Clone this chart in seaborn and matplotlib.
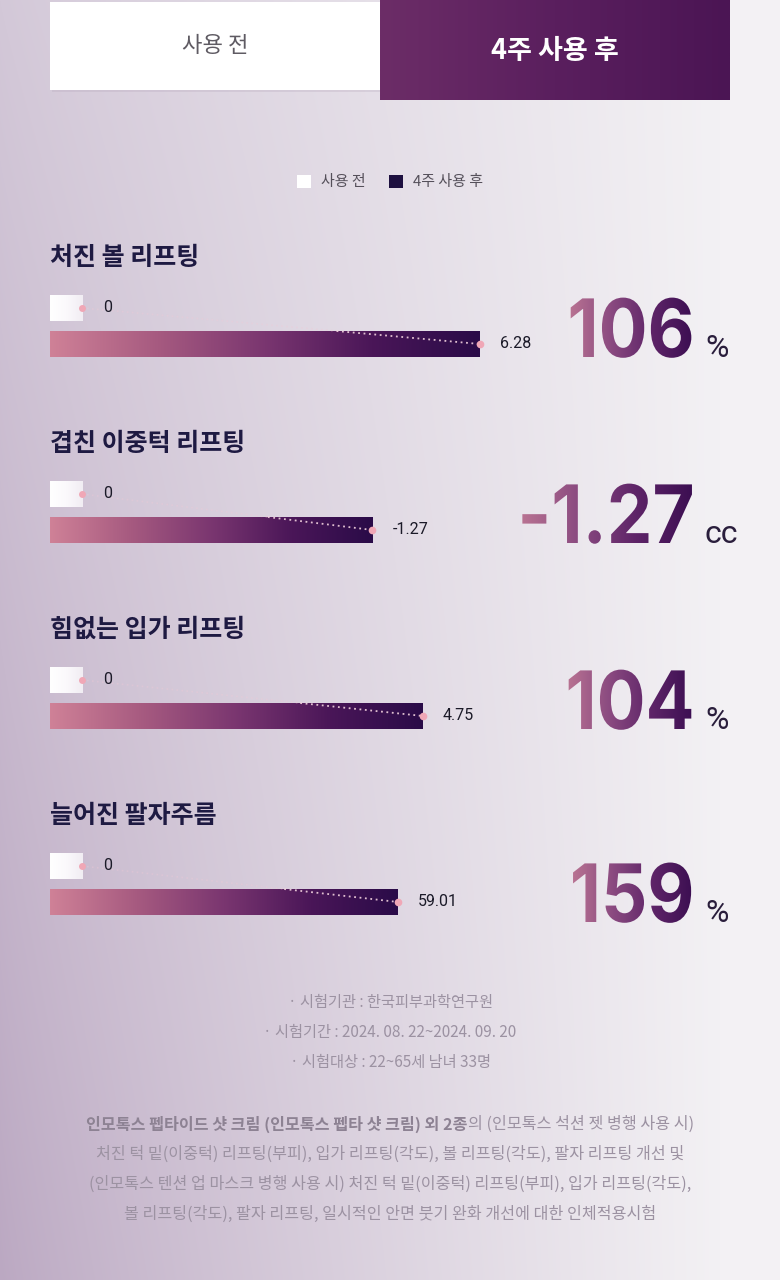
import numpy as np
import pandas as pd
import matplotlib
matplotlib.use("Agg")
import matplotlib.pyplot as plt
import seaborn as sns
from matplotlib.colors import LinearSegmentedColormap, to_rgb
from matplotlib.patches import Rectangle, Patch
from matplotlib.patheffects import AbstractPathEffect
from matplotlib.transforms import (IdentityTransform, TransformedPath,
                                   blended_transform_factory, Affine2D)

# ---------------- data ----------------
tab_labels = ["사용 전", "4주 사용 후"]
legend_labels = ["사용 전", "4주 사용 후"]
categories = ["처진 볼 리프팅", "겹친 이중턱 리프팅", "힘없는 입가 리프팅", "늘어진 팔자주름"]
before_values = [0, 0, 0, 0]
after_values = [6.28, -1.27, 4.75, 59.01]
change_values = ["106", "-1.27", "104", "159"]
change_units = ["%", "cc", "%", "%"]
panel_scale_max = [7.16, 1.93, 6.24, 83.1]
test_info = ["· 시험기관 : 한국피부과학연구원",
             "· 시험기간 : 2024. 08. 22~2024. 09. 20",
             "· 시험대상 : 22~65세 남녀 33명"]
note_bold = "인모톡스 펩타이드 샷 크림 (인모톡스 펩타 샷 크림) 외 2종"
note_lines = ["의 (인모톡스 석션 젯 병행 사용 시)",
              "처진 턱 밑(이중턱) 리프팅(부피), 입가 리프팅(각도), 볼 리프팅(각도), 팔자 리프팅 개선 및",
              "(인모톡스 텐션 업 마스크 병행 사용 시) 처진 턱 밑(이중턱) 리프팅(부피), 입가 리프팅(각도),",
              "볼 리프팅(각도), 팔자 리프팅, 일시적인 안면 붓기 완화 개선에 대한 인체적용시험"]

# ---------------- style ----------------
sns.set_theme(style="white")
plt.rcParams['font.family'] = ['Noto Sans CJK KR', 'DejaVu Sans']
NUM_FONT = ['Roboto', 'DejaVu Sans']
BIG_FONT = ['Inter', 'Roboto', 'DejaVu Sans']

W, H = 780, 1280
fig = plt.figure(figsize=(7.8, 12.8), dpi=100)

bar_cmap = LinearSegmentedColormap.from_list(
    "bar", ["#cf8197", "#a65a80", "#7a3670", "#4a1658", "#2a0b48"])
num_cmap = LinearSegmentedColormap.from_list(
    "num", ["#b87292", "#8a4a80", "#5e2468", "#3c0f52"])
tab_cmap = LinearSegmentedColormap.from_list("tab", ["#6c2d67", "#5a1f5e", "#4b1554"])
swatch_cmap = LinearSegmentedColormap.from_list("sw", ["#ffffff", "#fbf9fc", "#f1edf3"])


class GradientFill(AbstractPathEffect):
    """Fill a text path with a horizontal gradient (optionally condensed)."""
    def __init__(self, cmap, sx=1.0):
        super().__init__()
        self.cmap = cmap
        self.sx = sx

    def draw_path(self, renderer, gc, tpath, affine, rgbFace=None):
        path = affine.transform_path(tpath)
        ext = path.get_extents()
        if self.sx != 1.0:
            path = Affine2D().translate(-ext.x1, 0).scale(self.sx, 1).translate(ext.x1, 0).transform_path(path)
            ext = path.get_extents()
        x0, y0 = int(np.floor(ext.x0)), int(np.floor(ext.y0))
        w = int(np.ceil(ext.x1)) - x0 + 1
        h = int(np.ceil(ext.y1)) - y0 + 1
        t = np.linspace(0, 1, w)
        row = (self.cmap(t) * 255).astype(np.uint8)[None, :, :]
        img = np.ascontiguousarray(np.repeat(row, h, axis=0))
        gc2 = renderer.new_gc()
        gc2.copy_properties(gc)
        gc2.set_clip_path(TransformedPath(path, IdentityTransform()))
        renderer.draw_image(gc2, x0, y0, img)
        gc2.restore()


# ---------------- background ----------------
ax_bg = fig.add_axes([0, 0, 1, 1])
ax_bg.set_xlim(0, W)
ax_bg.set_ylim(H, 0)
ax_bg.axis('off')

yy, xx = np.mgrid[0:H, 0:W].astype(float)
left_top = np.array(to_rgb("#d3c8d8"))
left_bot = np.array(to_rgb("#bba8c2"))
right_col = np.array(to_rgb("#f3f1f4"))
fy = (yy / H)[..., None]
left = left_top * (1 - fy) + left_bot * fy
mix = (np.clip(xx / 720.0, 0, 1) ** 0.85)[..., None]
bg = left * (1 - mix) + right_col * mix
ax_bg.imshow(bg, extent=[0, W, H, 0], aspect='auto', zorder=0, interpolation='bilinear')

# ---------------- tabs ----------------
ax_bg.add_patch(Rectangle((52, 4), 330, 88, fc="#b8a9bd", ec='none', alpha=0.3, zorder=1))
ax_bg.add_patch(Rectangle((50, 2), 330, 88, fc="white", ec='none', zorder=2))
grad = np.linspace(0, 1, 256)[None, :]
ax_bg.imshow(grad, extent=[380, 730, 100, 0], aspect='auto', cmap=tab_cmap, zorder=2)
ax_bg.set_xlim(0, W)
ax_bg.set_ylim(H, 0)
ax_bg.text(215, 46, tab_labels[0], ha='center', va='center', fontsize=16,
           color='#5f5b63', zorder=3)
ax_bg.text(555, 51, tab_labels[1], ha='center', va='center', fontsize=19.5,
           fontweight='bold', color='white', zorder=3)

# ---------------- legend ----------------
handles = [Patch(facecolor='white', edgecolor='none'), Patch(facecolor='#1e1040', edgecolor='none')]
fig.legend(handles, legend_labels, loc='center', bbox_to_anchor=(390 / W, 1 - 182 / H),
           ncol=2, frameon=False, fontsize=10.8, handlelength=0.95, handleheight=0.95,
           handletextpad=0.7, columnspacing=1.5, labelcolor='#55505a')

# ---------------- groups ----------------
AX_LEFT, AX_W, AX_H = 50, 490, 72
for i, cat in enumerate(categories):
    top = 290 + 186 * i
    title_y = 258 + 186 * i
    baseline = [357, 543, 729, 922][i]

    ax_bg.text(50, title_y, cat, ha='left', va='center', fontsize=18, fontweight='bold',
               color='#1e1a42', zorder=3)

    ax = fig.add_axes([AX_LEFT / W, 1 - (top + AX_H) / H, AX_W / W, AX_H / H])
    df = pd.DataFrame({"구분": legend_labels,
                       "값": [before_values[i], abs(after_values[i])]})
    sns.barplot(data=df, x="값", y="구분", ax=ax, orient='h', width=0.72,
                color="#5a2060", saturation=1, edgecolor='none', linewidth=0)
    xmax = panel_scale_max[i]
    ax.set_xlim(0, xmax)
    ax.set_ylim(1.5, -0.5)
    ax.axis('off')
    ax.patch.set_alpha(0)

    bar = ax.patches[1]
    bx, by, bw, bh = bar.get_x(), bar.get_y(), bar.get_width(), bar.get_height()
    im = ax.imshow(grad, extent=[bx, bx + bw, by + bh, by], aspect='auto',
                   cmap=bar_cmap, zorder=2)
    im.set_clip_path(bar)
    ax.set_xlim(0, xmax)
    ax.set_ylim(1.5, -0.5)

    blend = blended_transform_factory(ax.transAxes, ax.transData)
    sw = 32 / AX_W
    ax.imshow(grad, extent=[0, sw, 0.36, -0.36], transform=blend, aspect='auto',
              cmap=swatch_cmap, zorder=2)
    ax.set_xlim(0, xmax)
    ax.set_ylim(1.5, -0.5)

    xb = xmax * sw
    val = abs(after_values[i])
    xc = xb + (val - xb) * 0.64
    ax.plot([xb, xc], [0, 0.64], ls=(0, (1, 2)), color='#f2c9d6', lw=1.2,
            alpha=0.35, zorder=3)
    ax.plot([xc, val], [0.64, 1], ls=(0, (1, 2)), color='#f3d3df', lw=1.3,
            alpha=0.9, zorder=3)
    ax.plot([xb], [0], 'o', ms=5, color='#f0a7b6', mec='none', zorder=4)
    ax.plot([val], [1], 'o', ms=5.5, color='#f0a7b6', mec='none', zorder=4)

    ax.text(53 / AX_W, 0, f"{before_values[i]}", transform=blend, ha='left',
            va='center', fontsize=11.5, family=NUM_FONT, color='#1b1a28')
    ax.annotate(f"{after_values[i]:.2f}", xy=(val, 1), xytext=(14.4, 0),
                textcoords='offset points', ha='left', va='center', fontsize=11.5,
                family=NUM_FONT, color='#1b1a28')

    ax_bg.text(695, baseline, change_values[i], ha='right', va='baseline', fontsize=58,
               fontweight='bold', family=BIG_FONT, color='#6a2a6a', zorder=3,
               path_effects=[GradientFill(num_cmap, sx=0.9)])
    ax_bg.text(705, baseline, change_units[i], ha='left', va='baseline', fontsize=23,
               family=NUM_FONT, color='#2a1e3c', zorder=3)

# ---------------- footer ----------------
for k, s in enumerate(test_info):
    ax_bg.text(390, 1003 + 30 * k, s, ha='center', va='center', fontsize=11,
               color='#9c92a2', zorder=3)

note_y = [1124, 1154, 1184, 1214]
r = fig.canvas.get_renderer()
t1 = ax_bg.text(0, note_y[0], note_bold, ha='left', va='center', fontsize=11.6,
                fontweight='bold', color='#8d8293', zorder=3)
t2 = ax_bg.text(0, note_y[0], note_lines[0], ha='left', va='center', fontsize=11.6,
                color='#9c92a2', zorder=3)
w1 = t1.get_window_extent(r).width
w2 = t2.get_window_extent(r).width
start = 390 - (w1 + w2) / 2
t1.set_x(start)
t2.set_x(start + w1)
for k in range(1, 4):
    ax_bg.text(390, note_y[k], note_lines[k], ha='center', va='center', fontsize=11.6,
               color='#9c92a2', zorder=3)

fig.savefig("out.png", dpi=100)
